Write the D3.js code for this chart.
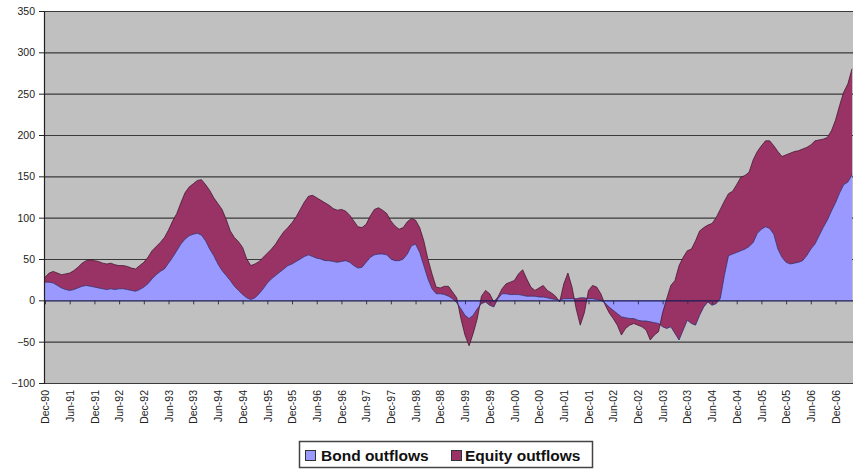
<!DOCTYPE html>
<html>
<head>
<meta charset="utf-8">
<script src="https://cdn.jsdelivr.net/npm/d3@7"></script>
<style>
  html, body { margin: 0; padding: 0; background: #ffffff; }
  svg { display: block; font-family: "Liberation Sans", Arial, sans-serif; }
</style>
</head>
<body>
<svg id="chart" width="853" height="474"></svg>
<script>
// Monthly series, Dec-90 through Apr-07 (US$ bn)
const firstMonth = new Date(1990, 11, 1);

const bond = [
  22, 22, 21, 18, 15, 13, 12, 13, 15, 17, 18, 17, 16, 15, 14, 13, 14, 13, 14, 14,
  13, 12, 11, 13, 16, 20, 26, 31, 35, 38, 45, 52, 60, 68, 74, 78, 80, 81, 79, 72,
  62, 54, 44, 36, 30, 24, 17, 12, 7, 3, 1, 3, 8, 14, 21, 26, 30, 34, 38, 42,
  44, 47, 50, 53, 55, 53, 51, 50, 48, 48, 47, 46, 47, 48, 46, 42, 39, 40, 46, 52,
  55, 56, 56, 55, 50, 48, 48, 50, 56, 66, 68, 58, 42, 26, 14, 8, 8, 7, 5, 2,
  -3, -10, -18, -22, -18, -10, -4, -2, -6, -8, 2, 8, 8, 7, 7, 7, 6, 5, 5, 5,
  4, 4, 3, 2, 1, 0, 2, 2, 2, 2, 3, 3, 2, 2, 1, 0, -3, -8, -12, -16,
  -20, -21, -22, -22, -24, -25, -25, -26, -27, -28, -32, -34, -32, -40, -48, -36, -24, -28, -30, -18,
  -8, -2, -6, -4, 2, 30, 54, 56, 58, 60, 62, 65, 70, 81, 86, 89, 87, 80, 62, 52,
  46, 44, 45, 46, 48, 54, 62, 68, 78, 88, 97, 108, 118, 130, 140, 143, 152
];

const equity = [
  6, 11, 14, 15, 16, 19, 21, 23, 25, 28, 30, 32, 32, 32, 31, 31, 31, 30, 28, 28,
  28, 27, 27, 29, 30, 32, 34, 34, 35, 38, 40, 44, 45, 50, 56, 59, 61, 64, 67, 68,
  71, 70, 73, 74, 68, 60, 59, 59, 57, 47, 41, 41, 39, 38, 36, 36, 38, 42, 45, 46,
  50, 54, 60, 66, 71, 74, 73, 71, 70, 67, 64, 63, 63, 60, 57, 54, 50, 48, 46, 50,
  55, 56, 53, 50, 46, 42, 38, 38, 39, 33, 29, 30, 30, 24, 18, 8, 7, 10, 12, 8,
  6, -12, -24, -33, -22, -12, 9, 14, 14, 6, 2, 6, 12, 15, 17, 25, 31, 21, 11, 7,
  11, 14, 9, 7, 4, -2, 18, 31, 14, -12, -33, -18, 10, 16, 15, 8, -2, -7, -10, -14,
  -22, -13, -8, -6, -6, -7, -11, -22, -15, -10, 17, 36, 50, 64, 90, 88, 84, 90, 102, 102,
  96, 93, 99, 104, 108, 90, 75, 76, 82, 89, 89, 90, 100, 99, 101, 104, 106, 107, 118, 122,
  130, 134, 135, 135, 135, 131, 126, 125, 116, 107, 100, 97, 100, 106, 112, 119, 128
];

const seriesNames = ["Bond outflows", "Equity outflows"];
const seriesColors = ["#9999ff", "#993366"];

const yTicks = [-100, -50, 0, 50, 100, 150, 200, 250, 300, 350];

const tickLabels = [
  "Dec-90", "Jun-91", "Dec-91", "Jun-92", "Dec-92", "Jun-93", "Dec-93", "Jun-94",
  "Dec-94", "Jun-95", "Dec-95", "Jun-96", "Dec-96", "Jun-97", "Dec-97", "Jun-98",
  "Dec-98", "Jun-99", "Dec-99", "Jun-00", "Dec-00", "Jun-01", "Dec-01", "Jun-02",
  "Dec-02", "Jun-03", "Dec-03", "Jun-04", "Dec-04", "Jun-05", "Dec-05", "Jun-06",
  "Dec-06"
];

// Category axis: one entry per month
const categories = d3.timeMonth.range(firstMonth, d3.timeMonth.offset(firstMonth, bond.length));
const rows = categories.map((d, i) => ({ month: d, bond: bond[i], equity: equity[i] }));

const plot = { left: 44, right: 853, top: 11, bottom: 383 };

const svg = d3.select("#chart");

const x = d3.scalePoint()
  .domain(d3.range(categories.length))
  .range([45, 852]);

const y = d3.scaleLinear()
  .domain([-100, 350])
  .range([plot.bottom, plot.top]);

// Plot background
svg.append("rect")
  .attr("x", plot.left).attr("y", plot.top)
  .attr("width", plot.right - plot.left).attr("height", plot.bottom - plot.top)
  .attr("fill", "#c0c0c0");

// Horizontal gridlines
svg.append("g")
  .selectAll("line")
  .data(yTicks.filter(v => v !== 0))
  .join("line")
  .attr("x1", plot.left).attr("x2", plot.right)
  .attr("y1", d => y(d) + 0.5).attr("y2", d => y(d) + 0.5)
  .attr("stroke", "#3a3a3a").attr("stroke-width", 1.2);

// Stacked areas (bond first, equity stacked on it)
const stack = d3.stack().keys(["bond", "equity"]).order(d3.stackOrderNone).offset(d3.stackOffsetNone);
const layers = stack(rows);

const area = d3.area()
  .x((d, i) => x(i))
  .y0(d => y(d[0]))
  .y1(d => y(d[1]));

svg.append("g")
  .selectAll("path")
  .data(layers)
  .join("path")
  .attr("d", d => area(d.map((p, i) => p)))
  .attr("fill", (d, i) => seriesColors[i]);

// Series edges
const edge = d3.line().x((d, i) => x(i)).y(d => y(d[1]));
svg.append("g")
  .selectAll("path")
  .data(layers)
  .join("path")
  .attr("d", d => edge(d))
  .attr("fill", "none")
  .attr("stroke", (d, i) => i === 0 ? "#2b2b6b" : "#3d1028")
  .attr("stroke-width", 0.9)
  .attr("stroke-opacity", 0.8);

// Category axis on the zero line (ticks every six months)
const tickIdx = d3.range(0, categories.length, 6);
const zeroAxis = d3.axisBottom(x)
  .tickValues(tickIdx)
  .tickSize(4)
  .tickSizeOuter(0)
  .tickFormat("");
const zg = svg.append("g")
  .attr("transform", `translate(0,${y(0)})`)
  .call(zeroAxis);
zg.select(".domain").attr("stroke", "#1a1a55").attr("stroke-width", 1.3).attr("d", `M${plot.left},0.5H${plot.right}`);
zg.selectAll(".tick line").attr("stroke", "#333355");

// Category labels along the bottom
const labelAxis = d3.axisBottom(x)
  .tickValues(tickIdx)
  .tickSize(0)
  .tickFormat((d, i) => tickLabels[i]);
const lg = svg.append("g")
  .attr("transform", `translate(0,${plot.bottom})`)
  .call(labelAxis);
lg.select(".domain").remove();
lg.selectAll("text")
  .attr("transform", "rotate(-90)")
  .attr("text-anchor", "end")
  .attr("x", -7)
  .attr("y", 0)
  .attr("dy", "0.35em")
  .attr("fill", "#222")
  .style("font-size", "10.5px")
  .style("font-family", "'Liberation Sans', Arial, sans-serif");

// Value axis
const yAxis = d3.axisLeft(y)
  .tickValues(yTicks)
  .tickSize(5)
  .tickPadding(4)
  .tickFormat(d3.format("d"));
const yg = svg.append("g")
  .attr("transform", `translate(${plot.left},0)`)
  .call(yAxis);
yg.select(".domain").attr("stroke", "#222").attr("stroke-width", 1.2);
yg.selectAll(".tick line").attr("stroke", "#222");
yg.selectAll("text")
  .attr("fill", "#222")
  .style("font-size", "10.5px")
  .style("font-family", "'Liberation Sans', Arial, sans-serif");

// Legend
const legend = svg.append("g");
legend.append("rect")
  .attr("x", 299.5).attr("y", 441.5).attr("width", 293).attr("height", 26)
  .attr("fill", "#ffffff").attr("stroke", "#444").attr("stroke-width", 1.5);
const legendItems = [
  { name: seriesNames[0], color: seriesColors[0], sx: 305, tx: 321 },
  { name: seriesNames[1], color: seriesColors[1], sx: 451, tx: 465 }
];
legend.selectAll("rect.sw")
  .data(legendItems)
  .join("rect")
  .attr("class", "sw")
  .attr("x", d => d.sx + 0.5).attr("y", 450.5)
  .attr("width", 10).attr("height", 10)
  .attr("fill", d => d.color).attr("stroke", "#333").attr("stroke-width", 1);
legend.selectAll("text")
  .data(legendItems)
  .join("text")
  .attr("x", d => d.tx).attr("y", 461)
  .attr("fill", "#111")
  .style("font-size", "15.5px")
  .style("font-weight", "bold")
  .text(d => d.name);
</script>
</body>
</html>
